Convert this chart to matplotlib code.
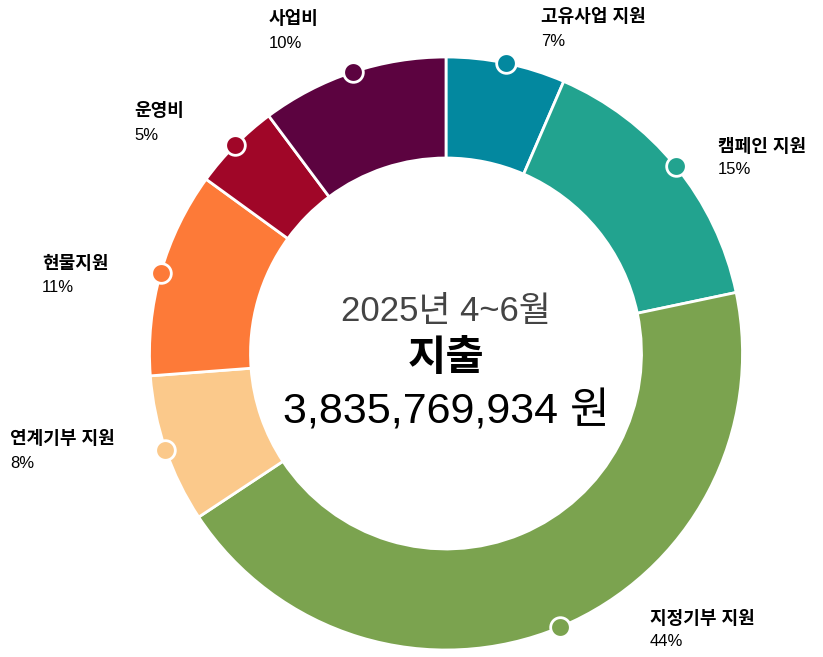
import matplotlib
matplotlib.use("Agg")
import matplotlib.pyplot as plt
import numpy as np

categories = ["고유사업 지원", "캠페인 지원", "지정기부 지원", "연계기부 지원", "현물지원", "운영비", "사업비"]
values = [6.5, 15.2, 44.0, 8.1, 11.2, 4.8, 10.2]
pct_labels = ["7%", "15%", "44%", "8%", "11%", "5%", "10%"]
colors = ["#03889F", "#22A38F", "#7BA34F", "#FBC98B", "#FD7A38", "#A00628", "#5C0340"]

title_period = "2025년 4~6월"
title_main = "지출"
total_text = "3,835,769,934 원"

# layout (pixel coordinates, y measured from top)
W, H = 823, 657
cx, cy = 446, 353.5
R = 296.5
ring_w = 101
label_pos = [(541, 18), (718, 147), (650, 619), (10, 440), (42, 264), (134, 112), (269, 20)]

fam = ["Liberation Sans", "Noto Sans CJK KR", "DejaVu Sans"]
plt.rcParams['font.family'] = fam

fig = plt.figure(figsize=(W / 100, H / 100), dpi=100)
ax = fig.add_axes([0, 0, 1, 1])

wedges, _ = ax.pie(values, colors=colors, startangle=90, counterclock=False,
                   center=(cx, H - cy), radius=R,
                   wedgeprops=dict(width=ring_w, edgecolor='white', linewidth=2))

for w, col in zip(wedges, colors):
    mid = np.deg2rad((w.theta1 + w.theta2) / 2)
    x = cx + R * np.cos(mid)
    y = (H - cy) + R * np.sin(mid)
    ax.scatter([x], [y], s=200, color=col, edgecolors='white', linewidths=2, zorder=5)

for name, pct, (lx, ly) in zip(categories, pct_labels, label_pos):
    ax.text(lx, H - ly, name, fontsize=13, fontweight='bold', ha='left', va='center', color='black')
    ax.text(lx, H - ly - 23, pct, fontsize=12, ha='left', va='center', color='black')

ax.text(cx, H - 312, title_period, fontsize=25, color='#444444', ha='center', va='center')
ax.text(cx, H - 359, title_main, fontsize=30, fontweight='bold', color='black', ha='center', va='center')
ax.text(cx, H - 412, total_text, fontsize=31, color='black', ha='center', va='center')

ax.set_xlim(0, W)
ax.set_ylim(0, H)
ax.set_aspect('equal')
ax.axis('off')

fig.savefig("out.png", dpi=100)
